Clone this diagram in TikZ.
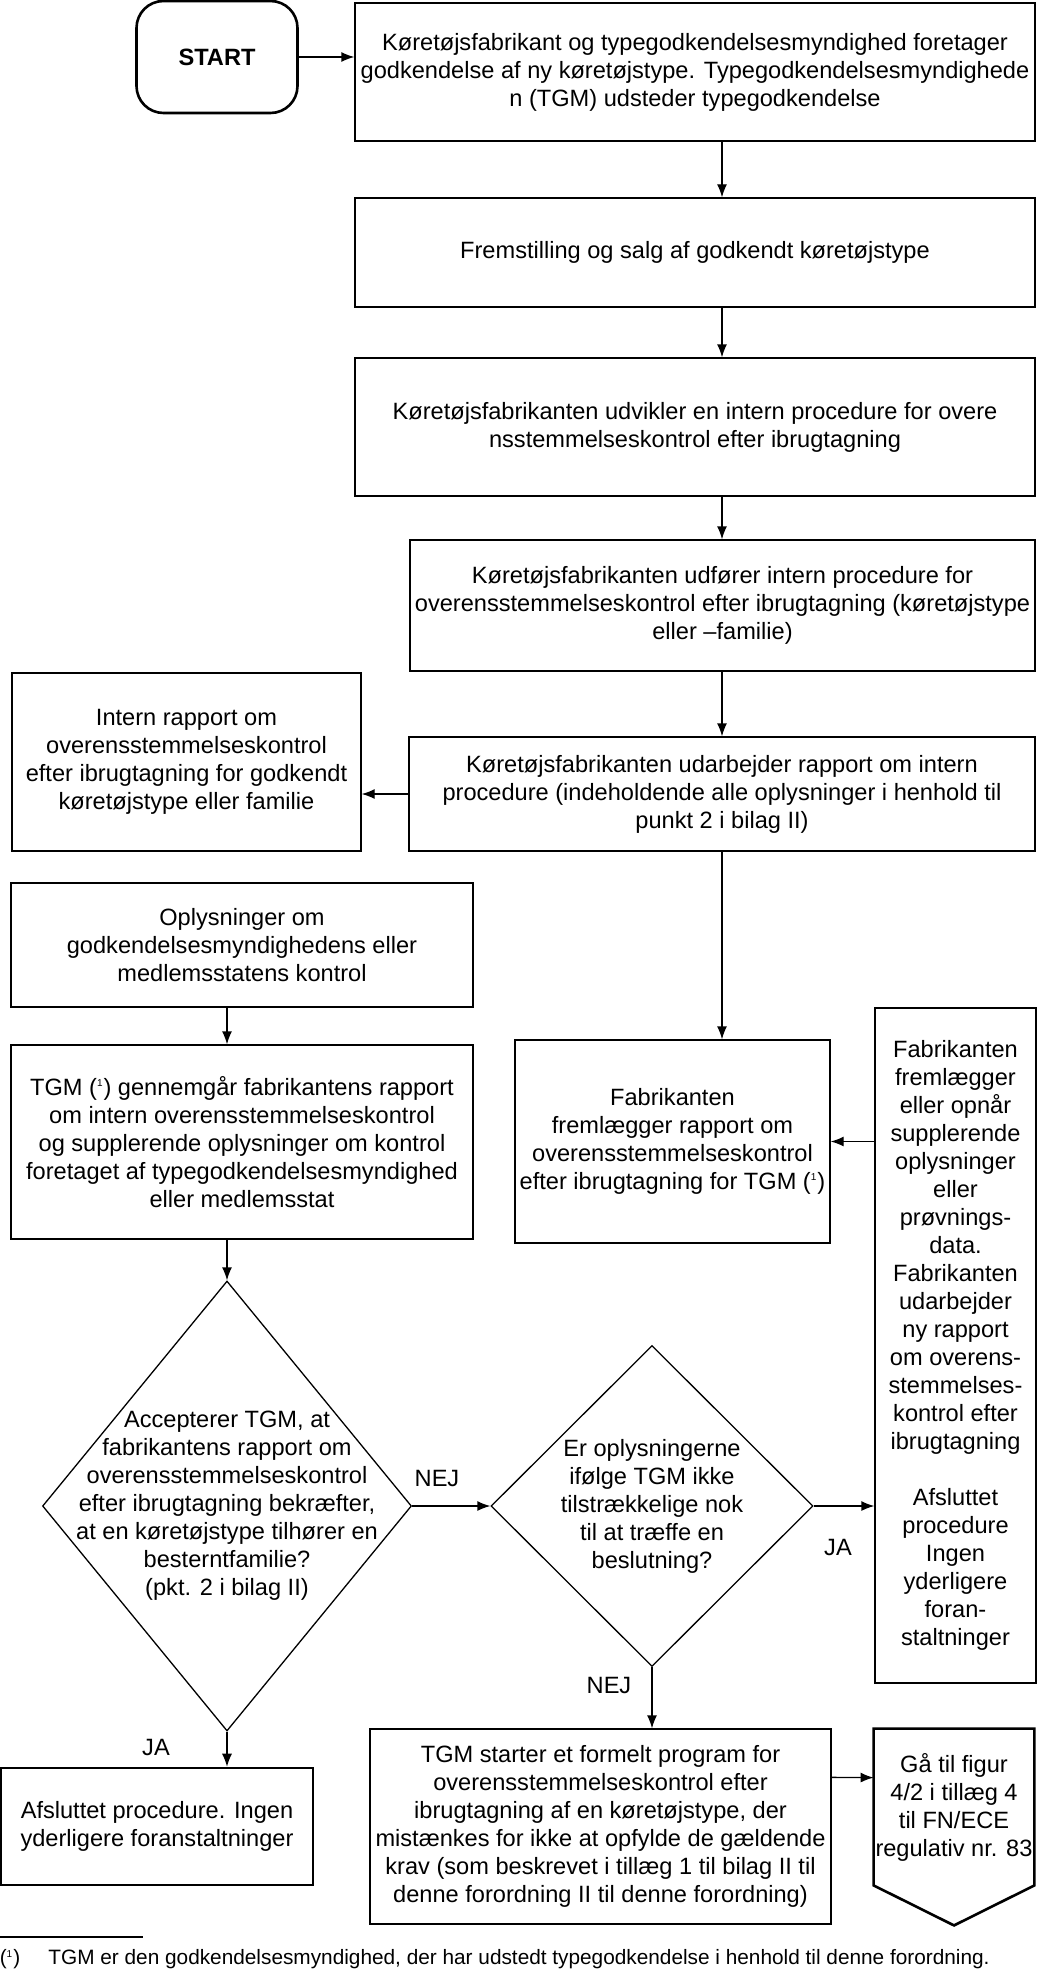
\documentclass[tikz,border=0pt]{standalone}
\usepackage{fontspec}
\setmainfont{Liberation Sans}
\usepackage{tikz}
\usetikzlibrary{arrows.meta,positioning,shapes.geometric,calc}

\newcommand{\boxfont}{\fontsize{11.8}{14}\selectfont}
\newcommand{\notefont}{\fontsize{10.4}{12}\selectfont}

\tikzset{
  box/.style={draw, line width=0.65pt, align=center, inner sep=0pt, font=\boxfont},
  endbox/.style={box, line width=1.3pt},
  decision/.style={draw, diamond, line width=0.65pt, inner sep=0pt},
  flow/.style={-{Latex[length=6.5pt,width=5pt]}, line width=0.65pt},
  lbl/.style={inner sep=0pt, align=center, font=\boxfont}
}

\begin{document}
\begin{tikzpicture}[x=0.5pt, y=-0.5pt]
  \useasboundingbox (0,0) rectangle (1038,1969);

  % Start and approval
  \node[endbox, rounded corners=13.5pt, minimum width=80.5pt, minimum height=56pt, font=\boxfont\bfseries] (start) at (217,57) {START};
  \node[box, minimum width=340pt, minimum height=69pt] (box1) at (695,72)
    {Køretøjsfabrikant og typegodkendelsesmyndighed foretager\\ godkendelse af ny køretøjstype. Typegodkendelsesmyndighede\\ n (TGM) udsteder typegodkendelse};
  \draw[flow] (start.east) -- (box1.west |- start.east);

  % Main column
  \node[box, minimum width=340pt, minimum height=54.5pt] (box2) at (695,252.5)
    {Fremstilling og salg af godkendt køretøjstype};
  \node[box, minimum width=340pt, minimum height=69pt] (box3) at (695,427)
    {Køretøjsfabrikanten udvikler en intern procedure for overe\\ nsstemmelseskontrol efter ibrugtagning};
  \node[box, minimum width=312.5pt, minimum height=65.5pt] (box4) at (722.5,605.5)
    {Køretøjsfabrikanten udfører intern procedure for\\ overensstemmelseskontrol efter ibrugtagning (køretøjstype\\ eller –familie)};
  \node[box, minimum width=313pt, minimum height=57pt] (box5) at (722,794)
    {Køretøjsfabrikanten udarbejder rapport om intern\\ procedure (indeholdende alle oplysninger i henhold til\\ punkt 2 i bilag II)};

  \draw[flow] (box1.south -| box5.south) -- (box2.north -| box5.south);
  \draw[flow] (box2.south -| box5.south) -- (box3.north -| box5.south);
  \draw[flow] (box3.south -| box5.south) -- (box4.north -| box5.south);
  \draw[flow] (box4.south -| box5.south) -- (box5.north);

  % Report and review
  \node[box, minimum width=174.5pt, minimum height=89pt] (intern) at (186.5,762)
    {Intern rapport om\\ overensstemmelseskontrol\\ efter ibrugtagning for godkendt\\ køretøjstype eller familie};
  \draw[flow] (box5.west) -- (intern.east |- box5.west);

  \node[box, minimum width=231pt, minimum height=62pt] (oplys) at (242,945)
    {Oplysninger om\\ godkendelsesmyndighedens eller\\ medlemsstatens kontrol};
  \node[box, minimum width=231pt, minimum height=97pt] (tgmrev) at (242,1142)
    {TGM (\textsuperscript{\tiny 1}) gennemgår fabrikantens rapport\\ om intern overensstemmelseskontrol\\ og supplerende oplysninger om kontrol\\ foretaget af typegodkendelsesmyndighed\\ eller medlemsstat};
  \node[box, minimum width=157.5pt, minimum height=101.5pt] (fremlaeg) at (672.5,1141.5)
    {Fabrikanten\\ fremlægger rapport om\\ overensstemmelseskontrol\\ efter ibrugtagning for TGM (\textsuperscript{\tiny 1})};
  \node[box, minimum width=80.5pt, minimum height=337.5pt] (tall) at (955.5,1345.5)
    {Fabrikanten\\ fremlægger\\ eller opnår\\ supplerende\\ oplysninger\\ eller\\ prøvnings-\\ data.\\ Fabrikanten\\ udarbejder\\ ny rapport\\ om overens-\\ stemmelses-\\ kontrol efter\\ ibrugtagning\\[14pt] Afsluttet\\ procedure\\ Ingen\\ yderligere\\ foran-\\ staltninger};

  \draw[flow] (box5.south) -- (box5.south |- fremlaeg.north);
  \draw[flow] (tall.west |- fremlaeg.east) -- (fremlaeg.east);

  % Decisions
  \node[decision, minimum width=184.5pt, minimum height=225pt] (d1) at (227,1506) {};
  \node[lbl] (d1txt) at (d1) {Accepterer TGM, at\\ fabrikantens rapport om\\ overensstemmelseskontrol\\ efter ibrugtagning bekræfter,\\ at en køretøjstype tilhører en\\ besterntfamilie?\\ (pkt. 2 i bilag II)};
  \node[decision, minimum width=161pt, minimum height=160.5pt] (d2) at (652,1506) {};
  \node[lbl] (d2txt) at (d2) {Er oplysningerne\\ ifølge TGM ikke\\ tilstrækkelige nok\\ til at træffe en\\ beslutning?};

  \draw[flow] (oplys.south -| d1.north) -- (tgmrev.north -| d1.north);
  \draw[flow] (tgmrev.south -| d1.north) -- (d1.north);
  \draw[flow] (d1.east) -- (d2.west);
  \draw[flow] (d2.east) -- (tall.west |- d2.east);
  \node[lbl] (nej1) at (437,1478) {NEJ};
  \node[lbl] (ja1) at (838,1547) {JA};

  % Outcomes
  \node[endbox, minimum width=156pt, minimum height=58.5pt] (afslut) at (157,1826.5)
    {Afsluttet procedure. Ingen\\ yderligere foranstaltninger};
  \node[box, minimum width=230.5pt, minimum height=97.5pt] (tgmstart) at (600.5,1826.5)
    {TGM starter et formelt program for\\ overensstemmelseskontrol efter\\ ibrugtagning af en køretøjstype, der\\ mistænkes for ikke at opfylde de gældende\\ krav (som beskrevet i tillæg 1 til bilag II til\\ denne forordning II til denne forordning)};
  \node[lbl, minimum width=80pt, minimum height=78pt] (goto) at (954,1807)
    {Gå til figur\\ 4/2 i tillæg 4\\ til FN/ECE\\ regulativ nr. 83};
  \draw[line width=1.3pt, line join=miter] (goto.north west) -- (goto.south west) -- ($(goto.south)+(0,40)$)
    -- (goto.south east) -- (goto.north east) -- cycle;

  \draw[flow] (d1.south) -- (d1.south |- afslut.north);
  \draw[flow] (d2.south) -- (d2.south |- tgmstart.north);
  \draw[flow] ([yshift=-24.5pt]tgmstart.north east) -- ([yshift=-24.5pt]goto.north west);
  \node[lbl] (ja2) at (156,1747) {JA};
  \node[lbl] (nej2) at (609,1685) {NEJ};

  % Footnote
  \coordinate (rulea) at (0,1937);
  \coordinate (ruleb) at (143,1937);
  \draw[line width=0.65pt] (rulea) -- (ruleb);
  \node[inner sep=0pt, font=\notefont] (fnmark) at (10,1959) {(\textsuperscript{\tiny 1})};
  \node[inner sep=0pt, anchor=west, font=\notefont] (fntext) at (48,1959)
    {TGM er den godkendelsesmyndighed, der har udstedt typegodkendelse i henhold til denne forordning.};
\end{tikzpicture}
\end{document}
